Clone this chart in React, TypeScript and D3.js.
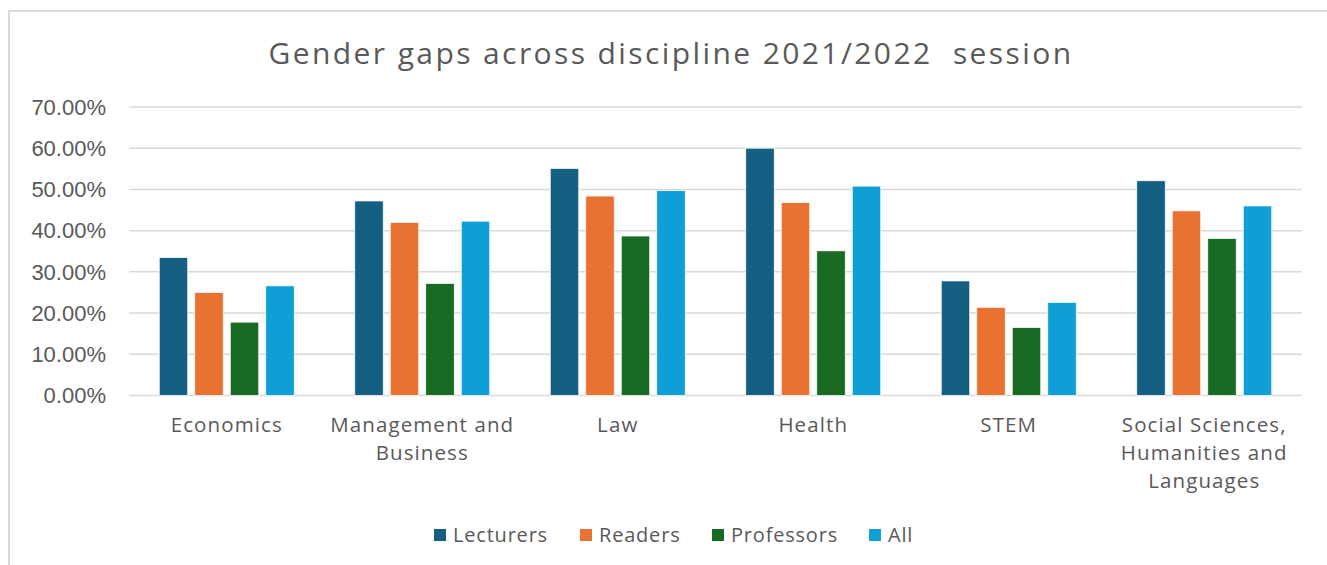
import React, { useEffect, useRef } from "react";
import * as d3 from "d3";

const categories = [
  "Economics",
  "Management and Business",
  "Law",
  "Health",
  "STEM",
  "Social Sciences, Humanities and Languages",
];
const categoryLines = [
  ["Economics"],
  ["Management and", "Business"],
  ["Law"],
  ["Health"],
  ["STEM"],
  ["Social Sciences,", "Humanities and", "Languages"],
];
const seriesNames = ["Lecturers", "Readers", "Professors", "All"];
const lecturers = [33.5, 47.2, 55.1, 60.0, 27.8, 52.1];
const readers = [25.0, 42.0, 48.4, 46.8, 21.4, 44.8];
const professors = [17.8, 27.2, 38.7, 35.1, 16.5, 38.1];
const allStaff = [26.6, 42.3, 49.7, 50.8, 22.6, 46.0];
const yTicks = [0, 10, 20, 30, 40, 50, 60, 70];
const colors = ["#156082", "#E97132", "#196B24", "#0F9ED5"];

const W = 1327;
const H = 565;
const M = { left: 129, right: 1302, top: 107, bottom: 395.5 };

export default function App() {
  const ref = useRef<SVGSVGElement | null>(null);
  useEffect(() => {
    const svg = d3.select(ref.current);
    svg.selectAll("*").remove();
    const values = [lecturers, readers, professors, allStaff];

    svg
      .append("rect")
      .attr("x", 9)
      .attr("y", 11)
      .attr("width", W)
      .attr("height", H)
      .attr("fill", "#fff")
      .attr("stroke", "#d9d9d9")
      .attr("stroke-width", 2);

    svg
      .append("text")
      .attr("x", 671)
      .attr("y", 64)
      .attr("text-anchor", "middle")
      .attr("font-family", "'Open Sans', sans-serif")
      .attr("font-size", 30)
      .attr("letter-spacing", 2.4)
      .attr("fill", "#595959")
      .attr("xml:space", "preserve")
      .text("Gender gaps across discipline 2021/2022  session");

    const y = d3.scaleLinear().domain([0, 70]).range([M.bottom, M.top]);
    const x0 = d3.scaleBand<string>().domain(categories).range([M.left, M.right]).padding(0);
    const innerW = x0.bandwidth() * (142 / 195.5);
    const x1 = d3
      .scaleBand<string>()
      .domain(seriesNames)
      .range([0, innerW])
      .paddingInner(0.197)
      .paddingOuter(0.0985);

    const grid = svg.append("g");
    yTicks.forEach((t) => {
      grid
        .append("line")
        .attr("x1", M.left)
        .attr("x2", M.right)
        .attr("y1", y(t))
        .attr("y2", y(t))
        .attr("stroke", "#d9d9d9")
        .attr("stroke-width", 1.5);
      grid
        .append("text")
        .attr("x", 106)
        .attr("y", y(t))
        .attr("dy", "0.35em")
        .attr("text-anchor", "end")
        .attr("font-family", "'Liberation Sans', Arial, sans-serif")
        .attr("font-size", 22)
        .attr("fill", "#595959")
        .text(d3.format(".2f")(t) + "%");
    });

    const bars = svg.append("g");
    categories.forEach((c, ci) => {
      const gx = (x0(c) as number) + (x0.bandwidth() - innerW) / 2;
      seriesNames.forEach((s, si) => {
        const v = values[si][ci];
        bars
          .append("rect")
          .attr("x", gx + (x1(s) as number))
          .attr("y", y(v))
          .attr("width", x1.bandwidth())
          .attr("height", y(0) - y(v))
          .attr("fill", colors[si])
          .attr("stroke", "#fff")
          .attr("stroke-width", 0.75);
      });
      const lines = categoryLines[ci];
      const t = svg
        .append("text")
        .attr("text-anchor", "middle")
        .attr("font-family", "'Open Sans', sans-serif")
        .attr("font-size", 20.5)
        .attr("letter-spacing", 1.1)
        .attr("fill", "#595959");
      lines.forEach((ln, li) => {
        t.append("tspan")
          .attr("x", (x0(c) as number) + x0.bandwidth() / 2)
          .attr("y", 432 + li * 28)
          .text(ln);
      });
    });

    const legendX = [434, 580, 712, 869];
    const legend = svg.append("g");
    seriesNames.forEach((s, si) => {
      legend
        .append("rect")
        .attr("x", legendX[si])
        .attr("y", 529)
        .attr("width", 12)
        .attr("height", 12)
        .attr("fill", colors[si]);
      legend
        .append("text")
        .attr("x", legendX[si] + 19)
        .attr("y", 535)
        .attr("dy", "0.35em")
        .attr("font-family", "'Open Sans', sans-serif")
        .attr("font-size", 20)
        .attr("letter-spacing", 0.8)
        .attr("fill", "#595959")
        .text(s);
    });
  }, []);
  return (
    <svg
      ref={ref}
      width={W}
      height={H}
      style={{ position: "absolute", left: 0, top: 0, background: "#fff" }}
    />
  );
}
